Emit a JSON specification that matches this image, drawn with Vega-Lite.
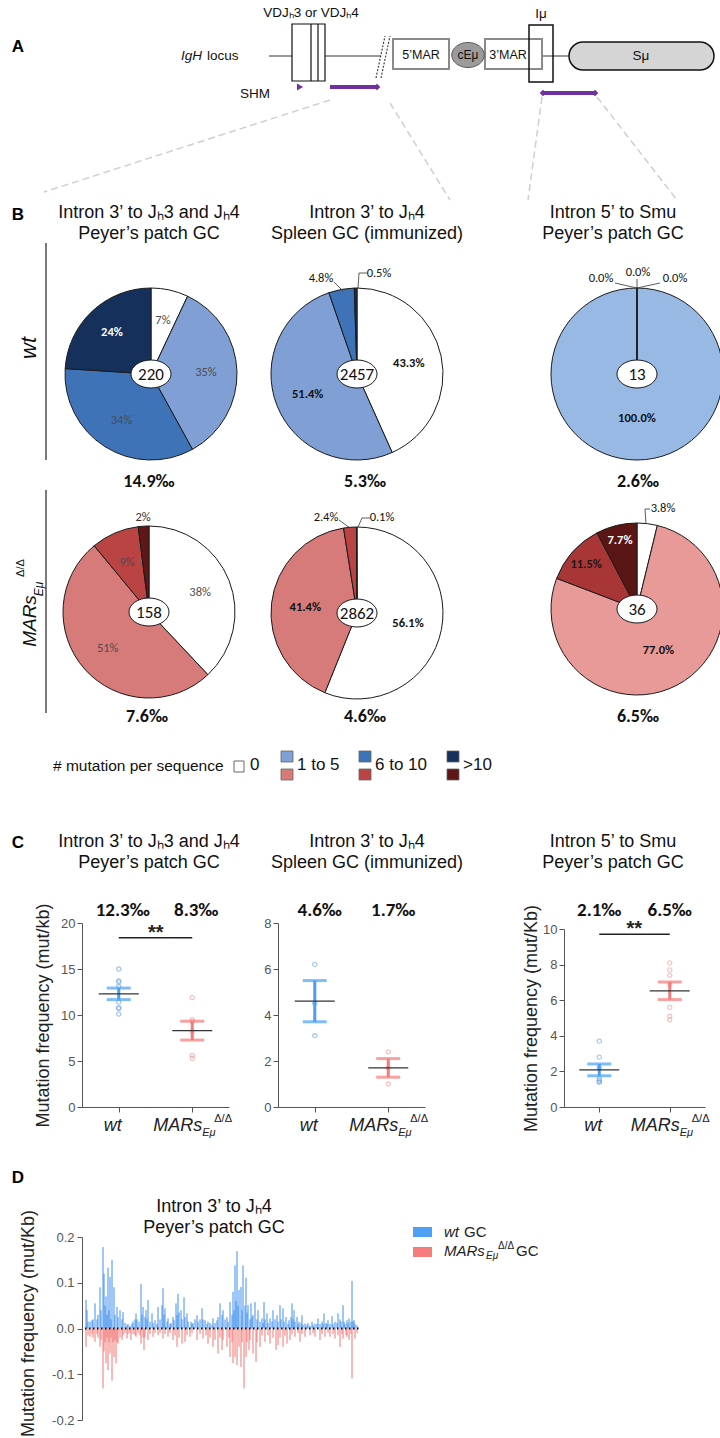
{
"$schema":"https://vega.github.io/schema/vega-lite/v6.json",
"padding":0,
"background":"white",
"spacing":0,
"bounds":"flush",
"config":{"view":{"stroke":null},"concat":{"spacing":0},
 "axis":{"labelFont":"Liberation Sans, Arial, sans-serif","labelFontSize":13,"labelColor":"#555","titleFont":"Liberation Sans, Arial, sans-serif","titleFontSize":17,"titleFontWeight":"normal","titleColor":"#222","domainColor":"#555","tickColor":"#555","tickSize":5,"labelPadding":2,"grid":false,"labelOverlap":false}},
"datasets":{
 "pie":[
  {"id":"w1","cat":"0","ord":1,"pct":7,"label":"7%"},
  {"id":"w1","cat":"1 to 5","ord":2,"pct":35,"label":"35%"},
  {"id":"w1","cat":"6 to 10","ord":3,"pct":34,"label":"34%"},
  {"id":"w1","cat":">10","ord":4,"pct":24,"label":"24%"},
  {"id":"w2","cat":"0","ord":1,"pct":43.3,"label":"43.3%"},
  {"id":"w2","cat":"1 to 5","ord":2,"pct":51.4,"label":"51.4%"},
  {"id":"w2","cat":"6 to 10","ord":3,"pct":4.8,"label":"4.8%"},
  {"id":"w2","cat":">10","ord":4,"pct":0.5,"label":"0.5%"},
  {"id":"w3","cat":"0","ord":1,"pct":0,"label":"0.0%"},
  {"id":"w3","cat":"1 to 5","ord":2,"pct":100,"label":"100.0%"},
  {"id":"w3","cat":"6 to 10","ord":3,"pct":0,"label":"0.0%"},
  {"id":"w3","cat":">10","ord":4,"pct":0,"label":"0.0%"},
  {"id":"m1","cat":"0","ord":1,"pct":38,"label":"38%"},
  {"id":"m1","cat":"1 to 5","ord":2,"pct":51,"label":"51%"},
  {"id":"m1","cat":"6 to 10","ord":3,"pct":9,"label":"9%"},
  {"id":"m1","cat":">10","ord":4,"pct":2,"label":"2%"},
  {"id":"m2","cat":"0","ord":1,"pct":56.1,"label":"56.1%"},
  {"id":"m2","cat":"1 to 5","ord":2,"pct":41.4,"label":"41.4%"},
  {"id":"m2","cat":"6 to 10","ord":3,"pct":2.4,"label":"2.4%"},
  {"id":"m2","cat":">10","ord":4,"pct":0.1,"label":"0.1%"},
  {"id":"m3","cat":"0","ord":1,"pct":3.8,"label":"3.8%"},
  {"id":"m3","cat":"1 to 5","ord":2,"pct":77.0,"label":"77.0%"},
  {"id":"m3","cat":"6 to 10","ord":3,"pct":11.5,"label":"11.5%"},
  {"id":"m3","cat":">10","ord":4,"pct":7.7,"label":"7.7%"}
 ],
 "pieinfo":[
  {"id":"w1","n":"220","freq":"14.9‰"},
  {"id":"w2","n":"2457","freq":"5.3‰"},
  {"id":"w3","n":"13","freq":"2.6‰"},
  {"id":"m1","n":"158","freq":"7.6‰"},
  {"id":"m2","n":"2862","freq":"4.6‰"},
  {"id":"m3","n":"36","freq":"6.5‰"}
 ],
 "cpts":[
  {"reg":1,"geno":"wt","f":15.0},{"reg":1,"geno":"wt","f":13.6},{"reg":1,"geno":"wt","f":13.7},{"reg":1,"geno":"wt","f":13.1},{"reg":1,"geno":"wt","f":11.4},{"reg":1,"geno":"wt","f":10.8},{"reg":1,"geno":"wt","f":10.7},{"reg":1,"geno":"wt","f":10.1},
  {"reg":1,"geno":"MARs","f":11.9},{"reg":1,"geno":"MARs","f":9.5},{"reg":1,"geno":"MARs","f":9.3},{"reg":1,"geno":"MARs","f":8.2},{"reg":1,"geno":"MARs","f":5.6},{"reg":1,"geno":"MARs","f":5.3},
  {"reg":2,"geno":"wt","f":6.2},{"reg":2,"geno":"wt","f":4.5},{"reg":2,"geno":"wt","f":3.1},
  {"reg":2,"geno":"MARs","f":2.4},{"reg":2,"geno":"MARs","f":1.7},{"reg":2,"geno":"MARs","f":1.0},
  {"reg":3,"geno":"wt","f":3.7},{"reg":3,"geno":"wt","f":2.8},{"reg":3,"geno":"wt","f":2.2},{"reg":3,"geno":"wt","f":1.6},{"reg":3,"geno":"wt","f":1.5},{"reg":3,"geno":"wt","f":1.4},{"reg":3,"geno":"wt","f":1.4},
  {"reg":3,"geno":"MARs","f":8.1},{"reg":3,"geno":"MARs","f":7.7},{"reg":3,"geno":"MARs","f":7.4},{"reg":3,"geno":"MARs","f":6.9},{"reg":3,"geno":"MARs","f":5.6},{"reg":3,"geno":"MARs","f":5.1},{"reg":3,"geno":"MARs","f":4.9}
 ],
 "cfreq":[
  {"reg":1,"geno":"wt","freq":"12.3‰"},{"reg":1,"geno":"MARs","freq":"8.3‰"},
  {"reg":2,"geno":"wt","freq":"4.6‰"},{"reg":2,"geno":"MARs","freq":"1.7‰"},
  {"reg":3,"geno":"wt","freq":"2.1‰"},{"reg":3,"geno":"MARs","freq":"6.5‰"}
 ],
 "dWt":[
  {"p":4,"f":0.063},{"p":5,"f":0.04},{"p":6,"f":0.015},{"p":8,"f":0.015},{"p":10,"f":0.018},{"p":11,"f":0.02},{"p":13,"f":0.055},{"p":15,"f":0.02},{"p":16,"f":0.03},{"p":18,"f":0.09},{"p":19,"f":0.04},{"p":21,"f":0.178},{"p":22,"f":0.12},{"p":23,"f":0.05},{"p":24,"f":0.07},{"p":25,"f":0.03},{"p":26,"f":0.133},{"p":27,"f":0.04},{"p":28,"f":0.113},{"p":29,"f":0.02},{"p":30,"f":0.15},{"p":32,"f":0.09},{"p":33,"f":0.03},{"p":35,"f":0.047},{"p":36,"f":0.025},{"p":38,"f":0.04},{"p":40,"f":0.02},{"p":41,"f":0.036},{"p":43,"f":0.012},{"p":45,"f":0.008},{"p":46,"f":0.01},{"p":48,"f":0.006},{"p":50,"f":0.011},{"p":51,"f":0.015},{"p":53,"f":0.02},{"p":54,"f":0.033},{"p":55,"f":0.02},{"p":57,"f":0.015},{"p":59,"f":0.097},{"p":60,"f":0.03},{"p":61,"f":0.047},{"p":63,"f":0.025},{"p":64,"f":0.04},{"p":65,"f":0.02},{"p":66,"f":0.062},{"p":68,"f":0.015},{"p":70,"f":0.033},{"p":71,"f":0.012},{"p":73,"f":0.018},{"p":75,"f":0.01},{"p":76,"f":0.047},{"p":78,"f":0.02},{"p":80,"f":0.051},{"p":81,"f":0.088},{"p":82,"f":0.03},{"p":83,"f":0.044},{"p":85,"f":0.015},{"p":86,"f":0.022},{"p":88,"f":0.01},{"p":89,"f":0.012},{"p":91,"f":0.025},{"p":92,"f":0.018},{"p":94,"f":0.055},{"p":95,"f":0.03},{"p":96,"f":0.076},{"p":97,"f":0.035},{"p":99,"f":0.04},{"p":100,"f":0.02},{"p":102,"f":0.068},{"p":103,"f":0.025},{"p":105,"f":0.033},{"p":106,"f":0.015},{"p":109,"f":0.015},{"p":110,"f":0.01},{"p":111,"f":0.012},{"p":113,"f":0.02},{"p":115,"f":0.029},{"p":116,"f":0.015},{"p":118,"f":0.02},{"p":120,"f":0.044},{"p":121,"f":0.02},{"p":123,"f":0.018},{"p":125,"f":0.01},{"p":126,"f":0.015},{"p":128,"f":0.012},{"p":130,"f":0.008},{"p":131,"f":0.022},{"p":133,"f":0.012},{"p":135,"f":0.018},{"p":136,"f":0.025},{"p":138,"f":0.055},{"p":140,"f":0.03},{"p":141,"f":0.04},{"p":143,"f":0.02},{"p":145,"f":0.025},{"p":146,"f":0.015},{"p":148,"f":0.058},{"p":150,"f":0.03},{"p":151,"f":0.08},{"p":152,"f":0.04},{"p":153,"f":0.138},{"p":154,"f":0.06},{"p":155,"f":0.169},{"p":156,"f":0.05},{"p":157,"f":0.084},{"p":159,"f":0.091},{"p":160,"f":0.04},{"p":161,"f":0.138},{"p":163,"f":0.05},{"p":164,"f":0.111},{"p":165,"f":0.035},{"p":166,"f":0.051},{"p":168,"f":0.02},{"p":169,"f":0.055},{"p":170,"f":0.025},{"p":171,"f":0.03},{"p":173,"f":0.058},{"p":175,"f":0.02},{"p":176,"f":0.04},{"p":178,"f":0.015},{"p":180,"f":0.022},{"p":181,"f":0.012},{"p":182,"f":0.058},{"p":183,"f":0.02},{"p":185,"f":0.033},{"p":186,"f":0.012},{"p":188,"f":0.022},{"p":190,"f":0.015},{"p":191,"f":0.04},{"p":193,"f":0.02},{"p":195,"f":0.029},{"p":196,"f":0.015},{"p":198,"f":0.051},{"p":199,"f":0.02},{"p":201,"f":0.044},{"p":202,"f":0.015},{"p":204,"f":0.025},{"p":206,"f":0.01},{"p":207,"f":0.018},{"p":209,"f":0.025},{"p":210,"f":0.055},{"p":211,"f":0.02},{"p":212,"f":0.04},{"p":213,"f":0.015},{"p":215,"f":0.025},{"p":216,"f":0.01},{"p":217,"f":0.015},{"p":219,"f":0.012},{"p":220,"f":0.029},{"p":221,"f":0.008},{"p":223,"f":0.011},{"p":225,"f":0.008},{"p":226,"f":0.012},{"p":228,"f":0.006},{"p":230,"f":0.015},{"p":231,"f":0.008},{"p":233,"f":0.011},{"p":235,"f":0.01},{"p":236,"f":0.022},{"p":238,"f":0.01},{"p":240,"f":0.015},{"p":241,"f":0.01},{"p":242,"f":0.033},{"p":244,"f":0.012},{"p":245,"f":0.01},{"p":246,"f":0.018},{"p":248,"f":0.01},{"p":250,"f":0.027},{"p":251,"f":0.01},{"p":253,"f":0.015},{"p":255,"f":0.012},{"p":256,"f":0.033},{"p":258,"f":0.02},{"p":259,"f":0.015},{"p":261,"f":0.051},{"p":262,"f":0.015},{"p":263,"f":0.01},{"p":265,"f":0.018},{"p":266,"f":0.012},{"p":267,"f":0.022},{"p":269,"f":0.015},{"p":270,"f":0.104},{"p":271,"f":0.015},{"p":272,"f":0.018},{"p":273,"f":0.01},{"p":275,"f":0.007}
 ],
 "dMars":[
  {"p":4,"f":-0.04},{"p":6,"f":-0.015},{"p":8,"f":-0.018},{"p":10,"f":-0.012},{"p":11,"f":-0.02},{"p":13,"f":-0.029},{"p":15,"f":-0.012},{"p":16,"f":-0.02},{"p":18,"f":-0.04},{"p":19,"f":-0.025},{"p":21,"f":-0.131},{"p":22,"f":-0.05},{"p":23,"f":-0.03},{"p":24,"f":-0.076},{"p":25,"f":-0.02},{"p":26,"f":-0.091},{"p":27,"f":-0.03},{"p":28,"f":-0.055},{"p":29,"f":-0.02},{"p":30,"f":-0.114},{"p":31,"f":-0.03},{"p":32,"f":-0.062},{"p":33,"f":-0.025},{"p":34,"f":-0.076},{"p":35,"f":-0.03},{"p":36,"f":-0.033},{"p":38,"f":-0.02},{"p":40,"f":-0.025},{"p":41,"f":-0.015},{"p":43,"f":-0.01},{"p":45,"f":-0.022},{"p":46,"f":-0.012},{"p":48,"f":-0.01},{"p":49,"f":-0.025},{"p":51,"f":-0.012},{"p":53,"f":-0.015},{"p":54,"f":-0.018},{"p":56,"f":-0.01},{"p":58,"f":-0.015},{"p":59,"f":-0.033},{"p":61,"f":-0.02},{"p":62,"f":-0.047},{"p":63,"f":-0.02},{"p":66,"f":-0.025},{"p":68,"f":-0.012},{"p":71,"f":-0.018},{"p":73,"f":-0.01},{"p":76,"f":-0.015},{"p":78,"f":-0.01},{"p":81,"f":-0.022},{"p":83,"f":-0.012},{"p":86,"f":-0.018},{"p":88,"f":-0.01},{"p":91,"f":-0.025},{"p":93,"f":-0.015},{"p":95,"f":-0.04},{"p":97,"f":-0.02},{"p":100,"f":-0.033},{"p":103,"f":-0.029},{"p":105,"f":-0.015},{"p":108,"f":-0.018},{"p":110,"f":-0.01},{"p":115,"f":-0.025},{"p":118,"f":-0.012},{"p":121,"f":-0.022},{"p":124,"f":-0.015},{"p":126,"f":-0.033},{"p":128,"f":-0.02},{"p":131,"f":-0.04},{"p":133,"f":-0.025},{"p":136,"f":-0.055},{"p":138,"f":-0.02},{"p":140,"f":-0.047},{"p":141,"f":-0.025},{"p":145,"f":-0.04},{"p":147,"f":-0.02},{"p":148,"f":-0.062},{"p":150,"f":-0.03},{"p":151,"f":-0.076},{"p":153,"f":-0.062},{"p":155,"f":-0.08},{"p":157,"f":-0.04},{"p":159,"f":-0.084},{"p":160,"f":-0.03},{"p":162,"f":-0.131},{"p":164,"f":-0.062},{"p":165,"f":-0.03},{"p":167,"f":-0.047},{"p":168,"f":-0.025},{"p":171,"f":-0.055},{"p":174,"f":-0.073},{"p":175,"f":-0.03},{"p":178,"f":-0.04},{"p":180,"f":-0.015},{"p":183,"f":-0.029},{"p":186,"f":-0.015},{"p":188,"f":-0.033},{"p":191,"f":-0.02},{"p":194,"f":-0.047},{"p":196,"f":-0.036},{"p":198,"f":-0.02},{"p":201,"f":-0.04},{"p":203,"f":-0.015},{"p":205,"f":-0.033},{"p":208,"f":-0.025},{"p":210,"f":-0.012},{"p":213,"f":-0.018},{"p":216,"f":-0.01},{"p":218,"f":-0.029},{"p":220,"f":-0.012},{"p":223,"f":-0.018},{"p":228,"f":-0.015},{"p":231,"f":-0.01},{"p":233,"f":-0.018},{"p":238,"f":-0.025},{"p":240,"f":-0.012},{"p":243,"f":-0.018},{"p":246,"f":-0.01},{"p":248,"f":-0.018},{"p":251,"f":-0.012},{"p":253,"f":-0.022},{"p":256,"f":-0.015},{"p":258,"f":-0.04},{"p":260,"f":-0.012},{"p":261,"f":-0.022},{"p":264,"f":-0.015},{"p":265,"f":-0.018},{"p":267,"f":-0.025},{"p":269,"f":-0.012},{"p":270,"f":-0.109},{"p":273,"f":-0.022},{"p":275,"f":-0.01}
 ]
},
"vconcat":[
 {
  "width":720,"height":200,
  "data":{"values":[{}]},
  "layer":[
   {"mark":{"type":"rule","color":"#cfcfcf","strokeWidth":1.5,"strokeDash":[7,4]},"encoding":{"x":{"datum":330,"type":"quantitative","scale":{"domain":[0,720],"nice":false,"zero":false},"axis":null},"y":{"datum":100,"type":"quantitative","scale":{"domain":[0,200],"nice":false,"zero":false,"reverse":true},"axis":null},"x2":{"datum":44},"y2":{"datum":192}}},
   {"mark":{"type":"rule","color":"#cfcfcf","strokeWidth":1.5,"strokeDash":[7,4]},"encoding":{"x":{"datum":390,"type":"quantitative","axis":null},"y":{"datum":103,"type":"quantitative","axis":null},"x2":{"datum":450},"y2":{"datum":200}}},
   {"mark":{"type":"rule","color":"#cfcfcf","strokeWidth":1.5,"strokeDash":[7,4]},"encoding":{"x":{"datum":542,"type":"quantitative","axis":null},"y":{"datum":97,"type":"quantitative","axis":null},"x2":{"datum":528},"y2":{"datum":200}}},
   {"mark":{"type":"rule","color":"#cfcfcf","strokeWidth":1.5,"strokeDash":[7,4]},"encoding":{"x":{"datum":597,"type":"quantitative","axis":null},"y":{"datum":97,"type":"quantitative","axis":null},"x2":{"datum":677},"y2":{"datum":200}}},
   {"mark":{"type":"rule","color":"#333","strokeWidth":1},"encoding":{"x":{"datum":269,"type":"quantitative","axis":null},"y":{"datum":56,"type":"quantitative","axis":null},"x2":{"datum":381},"y2":{"datum":56}}},
   {"mark":{"type":"rule","color":"#333","strokeWidth":1},"encoding":{"x":{"datum":542,"type":"quantitative","axis":null},"y":{"datum":56,"type":"quantitative","axis":null},"x2":{"datum":569},"y2":{"datum":56}}},
   {"mark":{"type":"rule","color":"#333","strokeWidth":1.1,"strokeDash":[2,1.5]},"encoding":{"x":{"datum":376,"type":"quantitative","axis":null},"y":{"datum":78,"type":"quantitative","axis":null},"x2":{"datum":385},"y2":{"datum":36}}},
   {"mark":{"type":"rule","color":"#333","strokeWidth":1.1,"strokeDash":[2,1.5]},"encoding":{"x":{"datum":381,"type":"quantitative","axis":null},"y":{"datum":78,"type":"quantitative","axis":null},"x2":{"datum":390},"y2":{"datum":36}}},
   {"mark":{"type":"rect","fill":"white","stroke":"#111","strokeWidth":1.2},"encoding":{"x":{"datum":292,"type":"quantitative","axis":null},"x2":{"datum":325},"y":{"datum":24,"type":"quantitative","axis":null},"y2":{"datum":81}}},
   {"mark":{"type":"rule","color":"#111","strokeWidth":1.2},"encoding":{"x":{"datum":311,"type":"quantitative","axis":null},"y":{"datum":24,"type":"quantitative","axis":null},"x2":{"datum":311},"y2":{"datum":81}}},
   {"mark":{"type":"rule","color":"#111","strokeWidth":1.2},"encoding":{"x":{"datum":318,"type":"quantitative","axis":null},"y":{"datum":24,"type":"quantitative","axis":null},"x2":{"datum":318},"y2":{"datum":81}}},
   {"mark":{"type":"rect","fill":"white","stroke":"#8a8a8a","strokeWidth":2},"encoding":{"x":{"datum":393,"type":"quantitative","axis":null},"x2":{"datum":449},"y":{"datum":39,"type":"quantitative","axis":null},"y2":{"datum":69}}},
   {"mark":{"type":"rect","fill":"white","stroke":"#8a8a8a","strokeWidth":2},"encoding":{"x":{"datum":485,"type":"quantitative","axis":null},"x2":{"datum":542},"y":{"datum":39,"type":"quantitative","axis":null},"y2":{"datum":69}}},
   {"mark":{"type":"point","shape":"M-1.3,0A1.3,1 0 1,0 1.3,0A1.3,1 0 1,0 -1.3,0Z","size":625,"filled":true,"fill":"#9b9b9b","stroke":"#5a5a5a","strokeWidth":1,"opacity":1},"encoding":{"x":{"datum":468,"type":"quantitative","axis":null},"y":{"datum":55,"type":"quantitative","axis":null}}},
   {"mark":{"type":"rect","filled":false,"stroke":"#111","strokeWidth":1.5},"encoding":{"x":{"datum":529,"type":"quantitative","axis":null},"x2":{"datum":553},"y":{"datum":25,"type":"quantitative","axis":null},"y2":{"datum":82}}},
   {"mark":{"type":"rect","fill":"#d5d5d5","stroke":"#111","strokeWidth":1.5,"cornerRadius":14},"encoding":{"x":{"datum":569,"type":"quantitative","axis":null},"x2":{"datum":714},"y":{"datum":42,"type":"quantitative","axis":null},"y2":{"datum":70}}},
   {"mark":{"type":"text","text":"A","font":"Liberation Sans, Arial, sans-serif","fontSize":17,"fontWeight":"bold","color":"#000"},"encoding":{"x":{"datum":18,"type":"quantitative","axis":null},"y":{"datum":47,"type":"quantitative","axis":null}}},
   {"mark":{"type":"text","text":"VDJₕ3 or VDJₕ4","font":"Liberation Sans Narrow, Arial Narrow, Liberation Sans, Arial, sans-serif","fontSize":13.5,"color":"#111"},"encoding":{"x":{"datum":311,"type":"quantitative","axis":null},"y":{"datum":13,"type":"quantitative","axis":null}}},
   {"mark":{"type":"text","text":"IgH","align":"left","fontStyle":"italic","font":"Liberation Sans Narrow, Arial Narrow, Liberation Sans, Arial, sans-serif","fontSize":13.5,"color":"#111"},"encoding":{"x":{"datum":181,"type":"quantitative","axis":null},"y":{"datum":56,"type":"quantitative","axis":null}}},
   {"mark":{"type":"text","text":"locus","align":"left","font":"Liberation Sans Narrow, Arial Narrow, Liberation Sans, Arial, sans-serif","fontSize":13.5,"color":"#111"},"encoding":{"x":{"datum":207,"type":"quantitative","axis":null},"y":{"datum":56,"type":"quantitative","axis":null}}},
   {"mark":{"type":"text","text":"5’MAR","font":"Liberation Sans Narrow, Arial Narrow, Liberation Sans, Arial, sans-serif","fontSize":12.5,"color":"#111"},"encoding":{"x":{"datum":421,"type":"quantitative","axis":null},"y":{"datum":55,"type":"quantitative","axis":null}}},
   {"mark":{"type":"text","text":"cEμ","font":"Liberation Sans Narrow, Arial Narrow, Liberation Sans, Arial, sans-serif","fontSize":12,"color":"#111"},"encoding":{"x":{"datum":468,"type":"quantitative","axis":null},"y":{"datum":55,"type":"quantitative","axis":null}}},
   {"mark":{"type":"text","text":"3’MAR","font":"Liberation Sans Narrow, Arial Narrow, Liberation Sans, Arial, sans-serif","fontSize":12.5,"color":"#111"},"encoding":{"x":{"datum":508,"type":"quantitative","axis":null},"y":{"datum":55,"type":"quantitative","axis":null}}},
   {"mark":{"type":"text","text":"Iμ","font":"Liberation Sans Narrow, Arial Narrow, Liberation Sans, Arial, sans-serif","fontSize":13.5,"color":"#111"},"encoding":{"x":{"datum":541,"type":"quantitative","axis":null},"y":{"datum":14,"type":"quantitative","axis":null}}},
   {"mark":{"type":"text","text":"Sμ","font":"Liberation Sans Narrow, Arial Narrow, Liberation Sans, Arial, sans-serif","fontSize":13.5,"color":"#111"},"encoding":{"x":{"datum":641,"type":"quantitative","axis":null},"y":{"datum":56,"type":"quantitative","axis":null}}},
   {"mark":{"type":"text","text":"SHM","font":"Liberation Sans Narrow, Arial Narrow, Liberation Sans, Arial, sans-serif","fontSize":13.5,"color":"#111"},"encoding":{"x":{"datum":255,"type":"quantitative","axis":null},"y":{"datum":94,"type":"quantitative","axis":null}}},
   {"mark":{"type":"rule","color":"#7030a0","strokeWidth":4},"encoding":{"x":{"datum":330,"type":"quantitative","axis":null},"y":{"datum":87,"type":"quantitative","axis":null},"x2":{"datum":376},"y2":{"datum":87}}},
   {"mark":{"type":"point","shape":"diamond","size":45,"filled":true,"color":"#7030a0","opacity":1},"encoding":{"x":{"datum":377,"type":"quantitative","axis":null},"y":{"datum":87,"type":"quantitative","axis":null}}},
   {"mark":{"type":"point","shape":"triangle-right","size":50,"filled":true,"color":"#7030a0","opacity":1},"encoding":{"x":{"datum":300,"type":"quantitative","axis":null},"y":{"datum":87,"type":"quantitative","axis":null}}},
   {"mark":{"type":"rule","color":"#7030a0","strokeWidth":4},"encoding":{"x":{"datum":543,"type":"quantitative","axis":null},"y":{"datum":93,"type":"quantitative","axis":null},"x2":{"datum":595},"y2":{"datum":93}}},
   {"mark":{"type":"point","shape":"diamond","size":45,"filled":true,"color":"#7030a0","opacity":1},"encoding":{"x":{"datum":543,"type":"quantitative","axis":null},"y":{"datum":93,"type":"quantitative","axis":null}}},
   {"mark":{"type":"point","shape":"diamond","size":45,"filled":true,"color":"#7030a0","opacity":1},"encoding":{"x":{"datum":595,"type":"quantitative","axis":null},"y":{"datum":93,"type":"quantitative","axis":null}}}
  ]
 },
 {
  "width":720,"height":600,
  "data":{"values":[{}]},
  "resolve":{"scale":{"color":"independent"}},
  "layer":[
   {"mark":{"type":"text","text":"B","font":"Liberation Sans, Arial, sans-serif","fontSize":17,"fontWeight":"bold","color":"#000"},"encoding":{"x":{"datum":18,"type":"quantitative","scale":{"domain":[0,720],"nice":false,"zero":false},"axis":null},"y":{"datum":15,"type":"quantitative","scale":{"domain":[0,600],"nice":false,"zero":false,"reverse":true},"axis":null}}},
   {"mark":{"type":"text","text":"wt","angle":270,"fontStyle":"italic","font":"Liberation Sans, Arial, sans-serif","fontSize":22,"color":"#111"},"encoding":{"x":{"datum":29,"type":"quantitative","axis":null},"y":{"datum":148,"type":"quantitative","axis":null}}},
   {"mark":{"type":"rule","color":"#222","strokeWidth":1.2},"encoding":{"x":{"datum":46,"type":"quantitative","axis":null},"y":{"datum":43,"type":"quantitative","axis":null},"x2":{"datum":46},"y2":{"datum":260}}},
   {"mark":{"type":"rule","color":"#222","strokeWidth":1.2},"encoding":{"x":{"datum":46,"type":"quantitative","axis":null},"y":{"datum":290,"type":"quantitative","axis":null},"x2":{"datum":46},"y2":{"datum":513}}},
   {"mark":{"type":"text","text":"MARs","angle":270,"fontStyle":"italic","font":"Liberation Sans, Arial, sans-serif","fontSize":19,"color":"#111"},"encoding":{"x":{"datum":30,"type":"quantitative","axis":null},"y":{"datum":421,"type":"quantitative","axis":null}}},
   {"mark":{"type":"text","text":"Eμ","angle":270,"fontStyle":"italic","font":"Liberation Sans, Arial, sans-serif","fontSize":12,"color":"#111"},"encoding":{"x":{"datum":39,"type":"quantitative","axis":null},"y":{"datum":389,"type":"quantitative","axis":null}}},
   {"mark":{"type":"text","text":"Δ/Δ","angle":270,"font":"Liberation Sans, Arial, sans-serif","fontSize":11,"color":"#111"},"encoding":{"x":{"datum":21,"type":"quantitative","axis":null},"y":{"datum":368,"type":"quantitative","axis":null}}},
   {"mark":{"type":"text","text":"Intron 3’ to Jₕ3 and Jₕ4","font":"Liberation Sans Narrow, Arial Narrow, Liberation Sans, Arial, sans-serif","fontSize":18,"color":"#111"},"encoding":{"x":{"datum":149,"type":"quantitative","axis":null},"y":{"datum":13,"type":"quantitative","axis":null}}},
   {"mark":{"type":"text","text":"Peyer’s patch GC","font":"Liberation Sans Narrow, Arial Narrow, Liberation Sans, Arial, sans-serif","fontSize":18,"color":"#111"},"encoding":{"x":{"datum":149,"type":"quantitative","axis":null},"y":{"datum":34,"type":"quantitative","axis":null}}},
   {"mark":{"type":"text","text":"Intron 3’ to Jₕ4","font":"Liberation Sans Narrow, Arial Narrow, Liberation Sans, Arial, sans-serif","fontSize":18,"color":"#111"},"encoding":{"x":{"datum":367,"type":"quantitative","axis":null},"y":{"datum":13,"type":"quantitative","axis":null}}},
   {"mark":{"type":"text","text":"Spleen GC (immunized)","font":"Liberation Sans Narrow, Arial Narrow, Liberation Sans, Arial, sans-serif","fontSize":18,"color":"#111"},"encoding":{"x":{"datum":367,"type":"quantitative","axis":null},"y":{"datum":34,"type":"quantitative","axis":null}}},
   {"mark":{"type":"text","text":"Intron 5’ to Smu","font":"Liberation Sans Narrow, Arial Narrow, Liberation Sans, Arial, sans-serif","fontSize":18,"color":"#111"},"encoding":{"x":{"datum":613,"type":"quantitative","axis":null},"y":{"datum":13,"type":"quantitative","axis":null}}},
   {"mark":{"type":"text","text":"Peyer’s patch GC","font":"Liberation Sans Narrow, Arial Narrow, Liberation Sans, Arial, sans-serif","fontSize":18,"color":"#111"},"encoding":{"x":{"datum":613,"type":"quantitative","axis":null},"y":{"datum":34,"type":"quantitative","axis":null}}},

   {"data":{"name":"pie"},"transform":[{"filter":"datum.id=='w1'"}],"mark":{"type":"arc","outerRadius":86,"stroke":"#1a1a1a","strokeWidth":1},"encoding":{"x":{"datum":151,"type":"quantitative","axis":null},"y":{"datum":174,"type":"quantitative","axis":null},"theta":{"field":"pct","type":"quantitative","stack":true,"scale":{"domain":[0,100]}},"order":{"field":"ord","type":"quantitative"},"color":{"field":"cat","type":"nominal","scale":{"domain":["0","1 to 5","6 to 10",">10"],"range":["#ffffff","#7f9fd5","#3e73b7","#15305a"]},"legend":null}}},
   {"data":{"name":"pie"},"transform":[{"filter":"datum.id=='w2'"}],"mark":{"type":"arc","outerRadius":86,"stroke":"#1a1a1a","strokeWidth":1},"encoding":{"x":{"datum":357,"type":"quantitative","axis":null},"y":{"datum":174,"type":"quantitative","axis":null},"theta":{"field":"pct","type":"quantitative","stack":true},"order":{"field":"ord","type":"quantitative"},"color":{"field":"cat","type":"nominal","scale":{"domain":["0","1 to 5","6 to 10",">10"],"range":["#ffffff","#7f9fd5","#3e73b7","#15305a"]},"legend":null}}},
   {"data":{"name":"pie"},"transform":[{"filter":"datum.id=='w3'"}],"mark":{"type":"arc","outerRadius":86,"stroke":"#1a1a1a","strokeWidth":1,"clip":true},"encoding":{"x":{"datum":637,"type":"quantitative","axis":null},"y":{"datum":174,"type":"quantitative","axis":null},"theta":{"field":"pct","type":"quantitative","stack":true},"order":{"field":"ord","type":"quantitative"},"color":{"field":"cat","type":"nominal","scale":{"domain":["0","1 to 5","6 to 10",">10"],"range":["#ffffff","#98b9e4","#3e73b7","#15305a"]},"legend":null}}},
   {"data":{"name":"pie"},"transform":[{"filter":"datum.id=='m1'"}],"mark":{"type":"arc","outerRadius":86,"stroke":"#1a1a1a","strokeWidth":1},"encoding":{"x":{"datum":149,"type":"quantitative","axis":null},"y":{"datum":412,"type":"quantitative","axis":null},"theta":{"field":"pct","type":"quantitative","stack":true},"order":{"field":"ord","type":"quantitative"},"color":{"field":"cat","type":"nominal","scale":{"domain":["0","1 to 5","6 to 10",">10"],"range":["#ffffff","#d67b7a","#ba4343","#5e1616"]},"legend":null}}},
   {"data":{"name":"pie"},"transform":[{"filter":"datum.id=='m2'"}],"mark":{"type":"arc","outerRadius":86,"stroke":"#1a1a1a","strokeWidth":1},"encoding":{"x":{"datum":357,"type":"quantitative","axis":null},"y":{"datum":413,"type":"quantitative","axis":null},"theta":{"field":"pct","type":"quantitative","stack":true},"order":{"field":"ord","type":"quantitative"},"color":{"field":"cat","type":"nominal","scale":{"domain":["0","1 to 5","6 to 10",">10"],"range":["#ffffff","#d67b7a","#ba4343","#5e1616"]},"legend":null}}},
   {"data":{"name":"pie"},"transform":[{"filter":"datum.id=='m3'"}],"mark":{"type":"arc","outerRadius":86,"stroke":"#1a1a1a","strokeWidth":1,"clip":true},"encoding":{"x":{"datum":637,"type":"quantitative","axis":null},"y":{"datum":409,"type":"quantitative","axis":null},"theta":{"field":"pct","type":"quantitative","stack":true},"order":{"field":"ord","type":"quantitative"},"color":{"field":"cat","type":"nominal","scale":{"domain":["0","1 to 5","6 to 10",">10"],"range":["#ffffff","#e89a98","#a93636","#5a1515"]},"legend":null}}},

   {"data":{"name":"pie"},"transform":[{"filter":"datum.id=='w1'"}],"mark":{"type":"text","radius":55,"font":"Carlito, Calibri, Lato, sans-serif","fontSize":12.5,"color":"#4d4d4d"},"encoding":{"x":{"datum":151,"type":"quantitative","axis":null},"y":{"datum":174,"type":"quantitative","axis":null},"theta":{"field":"pct","type":"quantitative","stack":true},"order":{"field":"ord","type":"quantitative"},"text":{"condition":{"test":"datum.cat!='>10'","field":"label","type":"nominal"},"value":""}}},
   {"data":{"name":"pie"},"transform":[{"filter":"datum.id=='w1'"}],"mark":{"type":"text","radius":57,"font":"Carlito, Calibri, Lato, sans-serif","fontSize":12.5,"fontWeight":"bold","color":"#ffffff"},"encoding":{"x":{"datum":151,"type":"quantitative","axis":null},"y":{"datum":174,"type":"quantitative","axis":null},"theta":{"field":"pct","type":"quantitative","stack":true},"order":{"field":"ord","type":"quantitative"},"text":{"condition":{"test":"datum.cat=='>10'","field":"label","type":"nominal"},"value":""}}},
   {"data":{"name":"pie"},"transform":[{"filter":"datum.id=='w2'"}],"mark":{"type":"text","radius":53,"font":"Carlito, Calibri, Lato, sans-serif","fontSize":12.5,"fontWeight":"bold","color":"#111"},"encoding":{"x":{"datum":357,"type":"quantitative","axis":null},"y":{"datum":174,"type":"quantitative","axis":null},"theta":{"field":"pct","type":"quantitative","stack":true},"order":{"field":"ord","type":"quantitative"},"text":{"condition":{"test":"datum.cat=='0'||datum.cat=='1 to 5'","field":"label","type":"nominal"},"value":""}}},
   {"data":{"name":"pie"},"transform":[{"filter":"datum.id=='w3'"}],"mark":{"type":"text","radius":44,"font":"Carlito, Calibri, Lato, sans-serif","fontSize":12.5,"fontWeight":"bold","color":"#111"},"encoding":{"x":{"datum":637,"type":"quantitative","axis":null},"y":{"datum":174,"type":"quantitative","axis":null},"theta":{"field":"pct","type":"quantitative","stack":true},"order":{"field":"ord","type":"quantitative"},"text":{"condition":{"test":"datum.cat=='1 to 5'","field":"label","type":"nominal"},"value":""}}},
   {"data":{"name":"pie"},"transform":[{"filter":"datum.id=='m1'"}],"mark":{"type":"text","radius":55,"font":"Carlito, Calibri, Lato, sans-serif","fontSize":12.5,"color":"#4d4d4d"},"encoding":{"x":{"datum":149,"type":"quantitative","axis":null},"y":{"datum":412,"type":"quantitative","axis":null},"theta":{"field":"pct","type":"quantitative","stack":true},"order":{"field":"ord","type":"quantitative"},"text":{"condition":{"test":"datum.cat!='>10'","field":"label","type":"nominal"},"value":""}}},
   {"data":{"name":"pie"},"transform":[{"filter":"datum.id=='m1'"}],"mark":{"type":"text","radius":95,"font":"Carlito, Calibri, Lato, sans-serif","fontSize":12.5,"color":"#333"},"encoding":{"x":{"datum":149,"type":"quantitative","axis":null},"y":{"datum":412,"type":"quantitative","axis":null},"theta":{"field":"pct","type":"quantitative","stack":true},"order":{"field":"ord","type":"quantitative"},"text":{"condition":{"test":"datum.cat=='>10'","field":"label","type":"nominal"},"value":""}}},
   {"data":{"name":"pie"},"transform":[{"filter":"datum.id=='m2'"}],"mark":{"type":"text","radius":52,"font":"Carlito, Calibri, Lato, sans-serif","fontSize":12.5,"fontWeight":"bold","color":"#111"},"encoding":{"x":{"datum":357,"type":"quantitative","axis":null},"y":{"datum":413,"type":"quantitative","axis":null},"theta":{"field":"pct","type":"quantitative","stack":true},"order":{"field":"ord","type":"quantitative"},"text":{"condition":{"test":"datum.cat=='0'||datum.cat=='1 to 5'","field":"label","type":"nominal"},"value":""}}},
   {"data":{"name":"pie"},"transform":[{"filter":"datum.id=='m3'"}],"mark":{"type":"text","radius":46,"font":"Carlito, Calibri, Lato, sans-serif","fontSize":12.5,"fontWeight":"bold","color":"#111"},"encoding":{"x":{"datum":637,"type":"quantitative","axis":null},"y":{"datum":409,"type":"quantitative","axis":null},"theta":{"field":"pct","type":"quantitative","stack":true},"order":{"field":"ord","type":"quantitative"},"text":{"condition":{"test":"datum.cat=='1 to 5'","field":"label","type":"nominal"},"value":""}}},
   {"data":{"name":"pie"},"transform":[{"filter":"datum.id=='m3'"}],"mark":{"type":"text","radius":68,"font":"Carlito, Calibri, Lato, sans-serif","fontSize":12.5,"fontWeight":"bold","color":"#1a1a1a"},"encoding":{"x":{"datum":637,"type":"quantitative","axis":null},"y":{"datum":409,"type":"quantitative","axis":null},"theta":{"field":"pct","type":"quantitative","stack":true},"order":{"field":"ord","type":"quantitative"},"text":{"condition":{"test":"datum.cat=='6 to 10'","field":"label","type":"nominal"},"value":""}}},
   {"data":{"name":"pie"},"transform":[{"filter":"datum.id=='m3'"}],"mark":{"type":"text","radius":71,"font":"Carlito, Calibri, Lato, sans-serif","fontSize":12.5,"fontWeight":"bold","color":"#ffffff"},"encoding":{"x":{"datum":637,"type":"quantitative","axis":null},"y":{"datum":409,"type":"quantitative","axis":null},"theta":{"field":"pct","type":"quantitative","stack":true},"order":{"field":"ord","type":"quantitative"},"text":{"condition":{"test":"datum.cat=='>10'","field":"label","type":"nominal"},"value":""}}},

   {"mark":{"type":"point","shape":"M-1.43,0A1.43,1 0 1,0 1.43,0A1.43,1 0 1,0 -1.43,0Z","size":784,"filled":true,"fill":"white","stroke":"#1a1a1a","strokeWidth":1,"opacity":1},"encoding":{"x":{"datum":151,"type":"quantitative","axis":null},"y":{"datum":174,"type":"quantitative","axis":null}}},
   {"mark":{"type":"point","shape":"M-1.43,0A1.43,1 0 1,0 1.43,0A1.43,1 0 1,0 -1.43,0Z","size":784,"filled":true,"fill":"white","stroke":"#1a1a1a","strokeWidth":1,"opacity":1},"encoding":{"x":{"datum":357,"type":"quantitative","axis":null},"y":{"datum":174,"type":"quantitative","axis":null}}},
   {"mark":{"type":"point","shape":"M-1.43,0A1.43,1 0 1,0 1.43,0A1.43,1 0 1,0 -1.43,0Z","size":784,"filled":true,"fill":"white","stroke":"#1a1a1a","strokeWidth":1,"opacity":1},"encoding":{"x":{"datum":637,"type":"quantitative","axis":null},"y":{"datum":174,"type":"quantitative","axis":null}}},
   {"mark":{"type":"point","shape":"M-1.43,0A1.43,1 0 1,0 1.43,0A1.43,1 0 1,0 -1.43,0Z","size":784,"filled":true,"fill":"white","stroke":"#1a1a1a","strokeWidth":1,"opacity":1},"encoding":{"x":{"datum":149,"type":"quantitative","axis":null},"y":{"datum":412,"type":"quantitative","axis":null}}},
   {"mark":{"type":"point","shape":"M-1.43,0A1.43,1 0 1,0 1.43,0A1.43,1 0 1,0 -1.43,0Z","size":784,"filled":true,"fill":"white","stroke":"#1a1a1a","strokeWidth":1,"opacity":1},"encoding":{"x":{"datum":357,"type":"quantitative","axis":null},"y":{"datum":413,"type":"quantitative","axis":null}}},
   {"mark":{"type":"point","shape":"M-1.43,0A1.43,1 0 1,0 1.43,0A1.43,1 0 1,0 -1.43,0Z","size":784,"filled":true,"fill":"white","stroke":"#1a1a1a","strokeWidth":1,"opacity":1},"encoding":{"x":{"datum":637,"type":"quantitative","axis":null},"y":{"datum":409,"type":"quantitative","axis":null}}},

   {"data":{"name":"pieinfo"},"transform":[{"filter":"datum.id=='w1'"}],"mark":{"type":"text","font":"Carlito, Calibri, Lato, sans-serif","fontSize":17,"color":"#111"},"encoding":{"x":{"datum":151,"type":"quantitative","axis":null},"y":{"datum":175,"type":"quantitative","axis":null},"text":{"field":"n","type":"nominal"}}},
   {"data":{"name":"pieinfo"},"transform":[{"filter":"datum.id=='w2'"}],"mark":{"type":"text","font":"Carlito, Calibri, Lato, sans-serif","fontSize":17,"color":"#111"},"encoding":{"x":{"datum":357,"type":"quantitative","axis":null},"y":{"datum":175,"type":"quantitative","axis":null},"text":{"field":"n","type":"nominal"}}},
   {"data":{"name":"pieinfo"},"transform":[{"filter":"datum.id=='w3'"}],"mark":{"type":"text","font":"Carlito, Calibri, Lato, sans-serif","fontSize":17,"color":"#111"},"encoding":{"x":{"datum":637,"type":"quantitative","axis":null},"y":{"datum":175,"type":"quantitative","axis":null},"text":{"field":"n","type":"nominal"}}},
   {"data":{"name":"pieinfo"},"transform":[{"filter":"datum.id=='m1'"}],"mark":{"type":"text","font":"Carlito, Calibri, Lato, sans-serif","fontSize":17,"color":"#111"},"encoding":{"x":{"datum":149,"type":"quantitative","axis":null},"y":{"datum":413,"type":"quantitative","axis":null},"text":{"field":"n","type":"nominal"}}},
   {"data":{"name":"pieinfo"},"transform":[{"filter":"datum.id=='m2'"}],"mark":{"type":"text","font":"Carlito, Calibri, Lato, sans-serif","fontSize":17,"color":"#111"},"encoding":{"x":{"datum":357,"type":"quantitative","axis":null},"y":{"datum":414,"type":"quantitative","axis":null},"text":{"field":"n","type":"nominal"}}},
   {"data":{"name":"pieinfo"},"transform":[{"filter":"datum.id=='m3'"}],"mark":{"type":"text","font":"Carlito, Calibri, Lato, sans-serif","fontSize":17,"color":"#111"},"encoding":{"x":{"datum":637,"type":"quantitative","axis":null},"y":{"datum":410,"type":"quantitative","axis":null},"text":{"field":"n","type":"nominal"}}},

   {"data":{"name":"pieinfo"},"transform":[{"filter":"datum.id=='w1'"}],"mark":{"type":"text","font":"Carlito, Calibri, Lato, sans-serif","fontSize":18,"fontWeight":"bold","color":"#111"},"encoding":{"x":{"datum":149,"type":"quantitative","axis":null},"y":{"datum":282,"type":"quantitative","axis":null},"text":{"field":"freq","type":"nominal"}}},
   {"data":{"name":"pieinfo"},"transform":[{"filter":"datum.id=='w2'"}],"mark":{"type":"text","font":"Carlito, Calibri, Lato, sans-serif","fontSize":18,"fontWeight":"bold","color":"#111"},"encoding":{"x":{"datum":365,"type":"quantitative","axis":null},"y":{"datum":282,"type":"quantitative","axis":null},"text":{"field":"freq","type":"nominal"}}},
   {"data":{"name":"pieinfo"},"transform":[{"filter":"datum.id=='w3'"}],"mark":{"type":"text","font":"Carlito, Calibri, Lato, sans-serif","fontSize":18,"fontWeight":"bold","color":"#111"},"encoding":{"x":{"datum":638,"type":"quantitative","axis":null},"y":{"datum":282,"type":"quantitative","axis":null},"text":{"field":"freq","type":"nominal"}}},
   {"data":{"name":"pieinfo"},"transform":[{"filter":"datum.id=='m1'"}],"mark":{"type":"text","font":"Carlito, Calibri, Lato, sans-serif","fontSize":18,"fontWeight":"bold","color":"#111"},"encoding":{"x":{"datum":147,"type":"quantitative","axis":null},"y":{"datum":517,"type":"quantitative","axis":null},"text":{"field":"freq","type":"nominal"}}},
   {"data":{"name":"pieinfo"},"transform":[{"filter":"datum.id=='m2'"}],"mark":{"type":"text","font":"Carlito, Calibri, Lato, sans-serif","fontSize":18,"fontWeight":"bold","color":"#111"},"encoding":{"x":{"datum":365,"type":"quantitative","axis":null},"y":{"datum":517,"type":"quantitative","axis":null},"text":{"field":"freq","type":"nominal"}}},
   {"data":{"name":"pieinfo"},"transform":[{"filter":"datum.id=='m3'"}],"mark":{"type":"text","font":"Carlito, Calibri, Lato, sans-serif","fontSize":18,"fontWeight":"bold","color":"#111"},"encoding":{"x":{"datum":638,"type":"quantitative","axis":null},"y":{"datum":517,"type":"quantitative","axis":null},"text":{"field":"freq","type":"nominal"}}},

   {"data":{"name":"pie"},"transform":[{"filter":"datum.id=='w2'&&datum.cat=='6 to 10'"}],"mark":{"type":"text","font":"Carlito, Calibri, Lato, sans-serif","fontSize":12.5,"color":"#111"},"encoding":{"x":{"datum":321,"type":"quantitative","axis":null},"y":{"datum":78,"type":"quantitative","axis":null},"text":{"field":"label","type":"nominal"}}},
   {"data":{"name":"pie"},"transform":[{"filter":"datum.id=='w2'&&datum.cat=='>10'"}],"mark":{"type":"text","font":"Carlito, Calibri, Lato, sans-serif","fontSize":12.5,"color":"#111"},"encoding":{"x":{"datum":379,"type":"quantitative","axis":null},"y":{"datum":73,"type":"quantitative","axis":null},"text":{"field":"label","type":"nominal"}}},
   {"data":{"name":"pie"},"transform":[{"filter":"datum.id=='w3'&&datum.cat=='0'"}],"mark":{"type":"text","font":"Carlito, Calibri, Lato, sans-serif","fontSize":12.5,"color":"#111"},"encoding":{"x":{"datum":601,"type":"quantitative","axis":null},"y":{"datum":78,"type":"quantitative","axis":null},"text":{"field":"label","type":"nominal"}}},
   {"data":{"name":"pie"},"transform":[{"filter":"datum.id=='w3'&&datum.cat=='6 to 10'"}],"mark":{"type":"text","font":"Carlito, Calibri, Lato, sans-serif","fontSize":12.5,"color":"#111"},"encoding":{"x":{"datum":638,"type":"quantitative","axis":null},"y":{"datum":72,"type":"quantitative","axis":null},"text":{"field":"label","type":"nominal"}}},
   {"data":{"name":"pie"},"transform":[{"filter":"datum.id=='w3'&&datum.cat=='>10'"}],"mark":{"type":"text","font":"Carlito, Calibri, Lato, sans-serif","fontSize":12.5,"color":"#111"},"encoding":{"x":{"datum":675,"type":"quantitative","axis":null},"y":{"datum":78,"type":"quantitative","axis":null},"text":{"field":"label","type":"nominal"}}},
   {"data":{"name":"pie"},"transform":[{"filter":"datum.id=='m2'&&datum.cat=='6 to 10'"}],"mark":{"type":"text","font":"Carlito, Calibri, Lato, sans-serif","fontSize":12.5,"color":"#111"},"encoding":{"x":{"datum":326,"type":"quantitative","axis":null},"y":{"datum":317,"type":"quantitative","axis":null},"text":{"field":"label","type":"nominal"}}},
   {"data":{"name":"pie"},"transform":[{"filter":"datum.id=='m2'&&datum.cat=='>10'"}],"mark":{"type":"text","font":"Carlito, Calibri, Lato, sans-serif","fontSize":12.5,"color":"#111"},"encoding":{"x":{"datum":382,"type":"quantitative","axis":null},"y":{"datum":317,"type":"quantitative","axis":null},"text":{"field":"label","type":"nominal"}}},
   {"data":{"name":"pie"},"transform":[{"filter":"datum.id=='m3'&&datum.cat=='0'"}],"mark":{"type":"text","font":"Carlito, Calibri, Lato, sans-serif","fontSize":12.5,"color":"#111"},"encoding":{"x":{"datum":663,"type":"quantitative","axis":null},"y":{"datum":308,"type":"quantitative","axis":null},"text":{"field":"label","type":"nominal"}}},

   {"mark":{"type":"rule","color":"#333","strokeWidth":0.8},"encoding":{"x":{"datum":334,"type":"quantitative","axis":null},"y":{"datum":82,"type":"quantitative","axis":null},"x2":{"datum":343},"y2":{"datum":91}}},
   {"mark":{"type":"rule","color":"#333","strokeWidth":0.8},"encoding":{"x":{"datum":367,"type":"quantitative","axis":null},"y":{"datum":73,"type":"quantitative","axis":null},"x2":{"datum":359},"y2":{"datum":73}}},
   {"mark":{"type":"rule","color":"#333","strokeWidth":0.8},"encoding":{"x":{"datum":359,"type":"quantitative","axis":null},"y":{"datum":73,"type":"quantitative","axis":null},"x2":{"datum":358},"y2":{"datum":88}}},
   {"mark":{"type":"rule","color":"#333","strokeWidth":0.8},"encoding":{"x":{"datum":615,"type":"quantitative","axis":null},"y":{"datum":83,"type":"quantitative","axis":null},"x2":{"datum":637},"y2":{"datum":88}}},
   {"mark":{"type":"rule","color":"#333","strokeWidth":0.8},"encoding":{"x":{"datum":637,"type":"quantitative","axis":null},"y":{"datum":79,"type":"quantitative","axis":null},"x2":{"datum":637},"y2":{"datum":88}}},
   {"mark":{"type":"rule","color":"#333","strokeWidth":0.8},"encoding":{"x":{"datum":660,"type":"quantitative","axis":null},"y":{"datum":83,"type":"quantitative","axis":null},"x2":{"datum":637},"y2":{"datum":88}}},
   {"mark":{"type":"rule","color":"#333","strokeWidth":0.8},"encoding":{"x":{"datum":339,"type":"quantitative","axis":null},"y":{"datum":320,"type":"quantitative","axis":null},"x2":{"datum":350},"y2":{"datum":328}}},
   {"mark":{"type":"rule","color":"#333","strokeWidth":0.8},"encoding":{"x":{"datum":370,"type":"quantitative","axis":null},"y":{"datum":318,"type":"quantitative","axis":null},"x2":{"datum":362},"y2":{"datum":318}}},
   {"mark":{"type":"rule","color":"#333","strokeWidth":0.8},"encoding":{"x":{"datum":362,"type":"quantitative","axis":null},"y":{"datum":318,"type":"quantitative","axis":null},"x2":{"datum":358},"y2":{"datum":327}}},
   {"mark":{"type":"rule","color":"#333","strokeWidth":0.8},"encoding":{"x":{"datum":650,"type":"quantitative","axis":null},"y":{"datum":309,"type":"quantitative","axis":null},"x2":{"datum":645},"y2":{"datum":309}}},
   {"mark":{"type":"rule","color":"#333","strokeWidth":0.8},"encoding":{"x":{"datum":645,"type":"quantitative","axis":null},"y":{"datum":309,"type":"quantitative","axis":null},"x2":{"datum":646},"y2":{"datum":324}}},

   {"mark":{"type":"text","text":"# mutation per sequence","align":"left","font":"Liberation Sans Narrow, Arial Narrow, Liberation Sans, Arial, sans-serif","fontSize":15.5,"color":"#111"},"encoding":{"x":{"datum":53,"type":"quantitative","axis":null},"y":{"datum":566,"type":"quantitative","axis":null}}},
   {"mark":{"type":"rect","fill":"white","stroke":"#666","strokeWidth":1},"encoding":{"x":{"datum":234,"type":"quantitative","axis":null},"x2":{"datum":244},"y":{"datum":561,"type":"quantitative","axis":null},"y2":{"datum":572}}},
   {"mark":{"type":"text","text":"0","align":"left","font":"Liberation Sans Narrow, Arial Narrow, Liberation Sans, Arial, sans-serif","fontSize":17,"color":"#111"},"encoding":{"x":{"datum":250,"type":"quantitative","axis":null},"y":{"datum":565,"type":"quantitative","axis":null}}},
   {"mark":{"type":"rect","fill":"#7f9fd5","stroke":"#666","strokeWidth":0.8},"encoding":{"x":{"datum":281,"type":"quantitative","axis":null},"x2":{"datum":293},"y":{"datum":551,"type":"quantitative","axis":null},"y2":{"datum":562}}},
   {"mark":{"type":"rect","fill":"#d67b7a","stroke":"#666","strokeWidth":0.8},"encoding":{"x":{"datum":281,"type":"quantitative","axis":null},"x2":{"datum":293},"y":{"datum":569,"type":"quantitative","axis":null},"y2":{"datum":580}}},
   {"mark":{"type":"text","text":"1 to 5","align":"left","font":"Liberation Sans Narrow, Arial Narrow, Liberation Sans, Arial, sans-serif","fontSize":17,"color":"#111"},"encoding":{"x":{"datum":297,"type":"quantitative","axis":null},"y":{"datum":565,"type":"quantitative","axis":null}}},
   {"mark":{"type":"rect","fill":"#3e73b7","stroke":"#666","strokeWidth":0.8},"encoding":{"x":{"datum":359,"type":"quantitative","axis":null},"x2":{"datum":371},"y":{"datum":551,"type":"quantitative","axis":null},"y2":{"datum":562}}},
   {"mark":{"type":"rect","fill":"#ba4343","stroke":"#666","strokeWidth":0.8},"encoding":{"x":{"datum":359,"type":"quantitative","axis":null},"x2":{"datum":371},"y":{"datum":569,"type":"quantitative","axis":null},"y2":{"datum":580}}},
   {"mark":{"type":"text","text":"6 to 10","align":"left","font":"Liberation Sans Narrow, Arial Narrow, Liberation Sans, Arial, sans-serif","fontSize":17,"color":"#111"},"encoding":{"x":{"datum":375,"type":"quantitative","axis":null},"y":{"datum":565,"type":"quantitative","axis":null}}},
   {"mark":{"type":"rect","fill":"#15305a","stroke":"#666","strokeWidth":0.8},"encoding":{"x":{"datum":447,"type":"quantitative","axis":null},"x2":{"datum":459},"y":{"datum":551,"type":"quantitative","axis":null},"y2":{"datum":562}}},
   {"mark":{"type":"rect","fill":"#5e1616","stroke":"#666","strokeWidth":0.8},"encoding":{"x":{"datum":447,"type":"quantitative","axis":null},"x2":{"datum":459},"y":{"datum":569,"type":"quantitative","axis":null},"y2":{"datum":580}}},
   {"mark":{"type":"text","text":">10","align":"left","font":"Liberation Sans Narrow, Arial Narrow, Liberation Sans, Arial, sans-serif","fontSize":17,"color":"#111"},"encoding":{"x":{"datum":463,"type":"quantitative","axis":null},"y":{"datum":565,"type":"quantitative","axis":null}}}
  ]
 },
 {
  "width":720,"height":123,
  "data":{"values":[{}]},
  "layer":[
   {"mark":{"type":"text","text":"C","font":"Liberation Sans, Arial, sans-serif","fontSize":17,"fontWeight":"bold","color":"#000"},"encoding":{"x":{"datum":18,"type":"quantitative","scale":{"domain":[0,720],"nice":false,"zero":false},"axis":null},"y":{"datum":43,"type":"quantitative","scale":{"domain":[0,123],"nice":false,"zero":false,"reverse":true},"axis":null}}},
   {"mark":{"type":"text","text":"Intron 3’ to Jₕ3 and Jₕ4","font":"Liberation Sans Narrow, Arial Narrow, Liberation Sans, Arial, sans-serif","fontSize":18,"color":"#111"},"encoding":{"x":{"datum":149,"type":"quantitative","axis":null},"y":{"datum":42,"type":"quantitative","axis":null}}},
   {"mark":{"type":"text","text":"Peyer’s patch GC","font":"Liberation Sans Narrow, Arial Narrow, Liberation Sans, Arial, sans-serif","fontSize":18,"color":"#111"},"encoding":{"x":{"datum":149,"type":"quantitative","axis":null},"y":{"datum":63,"type":"quantitative","axis":null}}},
   {"mark":{"type":"text","text":"Intron 3’ to Jₕ4","font":"Liberation Sans Narrow, Arial Narrow, Liberation Sans, Arial, sans-serif","fontSize":18,"color":"#111"},"encoding":{"x":{"datum":367,"type":"quantitative","axis":null},"y":{"datum":42,"type":"quantitative","axis":null}}},
   {"mark":{"type":"text","text":"Spleen GC (immunized)","font":"Liberation Sans Narrow, Arial Narrow, Liberation Sans, Arial, sans-serif","fontSize":18,"color":"#111"},"encoding":{"x":{"datum":367,"type":"quantitative","axis":null},"y":{"datum":63,"type":"quantitative","axis":null}}},
   {"mark":{"type":"text","text":"Intron 5’ to Smu","font":"Liberation Sans Narrow, Arial Narrow, Liberation Sans, Arial, sans-serif","fontSize":18,"color":"#111"},"encoding":{"x":{"datum":613,"type":"quantitative","axis":null},"y":{"datum":42,"type":"quantitative","axis":null}}},
   {"mark":{"type":"text","text":"Peyer’s patch GC","font":"Liberation Sans Narrow, Arial Narrow, Liberation Sans, Arial, sans-serif","fontSize":18,"color":"#111"},"encoding":{"x":{"datum":613,"type":"quantitative","axis":null},"y":{"datum":63,"type":"quantitative","axis":null}}}
  ]
 },
 {
  "spacing":0,"bounds":"flush",
  "hconcat":[
   {"width":82,"height":184,"data":{"values":[]},"mark":"point"},
   {
    "width":147,"height":184,
    "layer":[
     {"data":{"name":"cpts"},"transform":[{"filter":"datum.reg==1"}],"mark":{"type":"point","filled":false,"size":18,"strokeWidth":1.1},"encoding":{"x":{"field":"geno","type":"nominal","title":null,"scale":{"type":"point","domain":["wt","MARs"],"padding":0.5},"axis":{"labels":false,"title":null,"tickSize":5}},"y":{"field":"f","type":"quantitative","title":"Mutation frequency (mut/kb)","scale":{"domain":[0,20],"nice":false},"axis":{"values":[0,5,10,15,20],"labelOverlap":false,"titlePadding":8,"titleFontSize":18}},"stroke":{"field":"geno","type":"nominal","scale":{"domain":["wt","MARs"],"range":["#7aa8e8","#f0a3a3"]},"legend":null}}},
     {"data":{"name":"cpts"},"transform":[{"filter":"datum.reg==1"}],"mark":{"type":"errorbar","extent":"stderr","ticks":true,"size":24,"thickness":3},"encoding":{"x":{"field":"geno","type":"nominal","title":null},"y":{"field":"f","type":"quantitative","title":"Mutation frequency (mut/kb)"},"color":{"field":"geno","type":"nominal","scale":{"domain":["wt","MARs"],"range":["#4a9ff5","#f37b7b"]},"legend":null}}},
     {"data":{"name":"cpts"},"transform":[{"filter":"datum.reg==1"}],"mark":{"type":"tick","size":40,"thickness":1.3,"color":"#333"},"encoding":{"x":{"field":"geno","type":"nominal","title":null},"y":{"aggregate":"mean","field":"f","type":"quantitative","title":"Mutation frequency (mut/kb)"}}},
     {"data":{"name":"cfreq"},"transform":[{"filter":"datum.reg==1"}],"mark":{"type":"text","font":"Carlito, Calibri, Lato, sans-serif","fontSize":19,"fontWeight":"bold","color":"#111","dx":4},"encoding":{"x":{"field":"geno","type":"nominal","title":null},"y":{"datum":21.4,"type":"quantitative","title":"Mutation frequency (mut/kb)"},"text":{"field":"freq","type":"nominal"}}},
     {"data":{"values":[{}]},"mark":{"type":"rule","color":"#222","strokeWidth":1.5},"encoding":{"x":{"datum":"wt","type":"nominal","title":null},"x2":{"datum":"MARs"},"y":{"datum":18.4,"type":"quantitative","title":"Mutation frequency (mut/kb)"}}},
     {"data":{"values":[{}]},"mark":{"type":"text","text":"**","font":"Liberation Sans, Arial, sans-serif","fontSize":20,"fontWeight":"bold","color":"#222","dx":37,"dy":-5},"encoding":{"x":{"datum":"wt","type":"nominal","title":null},"y":{"datum":18.4,"type":"quantitative","title":"Mutation frequency (mut/kb)"}}},
     {"data":{"values":[{}]},"mark":{"type":"text","text":"wt","font":"Liberation Sans, Arial, sans-serif","fontSize":18,"fontStyle":"italic","color":"#222","dx":-6,"dy":19},"encoding":{"x":{"datum":"wt","type":"nominal","title":null},"y":{"datum":0,"type":"quantitative","title":"Mutation frequency (mut/kb)"}}},
     {"data":{"values":[{}]},"mark":{"type":"text","text":"MARs","align":"right","font":"Liberation Sans, Arial, sans-serif","fontSize":18,"fontStyle":"italic","color":"#222","dx":10,"dy":19},"encoding":{"x":{"datum":"MARs","type":"nominal","title":null},"y":{"datum":0,"type":"quantitative","title":"Mutation frequency (mut/kb)"}}},
     {"data":{"values":[{}]},"mark":{"type":"text","text":"Eμ","align":"left","font":"Liberation Sans, Arial, sans-serif","fontSize":11,"fontStyle":"italic","color":"#222","dx":10,"dy":26},"encoding":{"x":{"datum":"MARs","type":"nominal","title":null},"y":{"datum":0,"type":"quantitative","title":"Mutation frequency (mut/kb)"}}},
     {"data":{"values":[{}]},"mark":{"type":"text","text":"Δ/Δ","align":"left","font":"Liberation Sans, Arial, sans-serif","fontSize":11,"color":"#222","dx":22,"dy":12},"encoding":{"x":{"datum":"MARs","type":"nominal","title":null},"y":{"datum":0,"type":"quantitative","title":"Mutation frequency (mut/kb)"}}}
    ]
   },
   {"width":49,"height":184,"data":{"values":[]},"mark":"point"},
   {
    "width":147,"height":184,
    "layer":[
     {"data":{"name":"cpts"},"transform":[{"filter":"datum.reg==2"}],"mark":{"type":"point","filled":false,"size":18,"strokeWidth":1.1},"encoding":{"x":{"field":"geno","type":"nominal","title":null,"scale":{"type":"point","domain":["wt","MARs"],"padding":0.5},"axis":{"labels":false,"title":null,"tickSize":5}},"y":{"field":"f","type":"quantitative","title":null,"scale":{"domain":[0,8],"nice":false},"axis":{"values":[0,2,4,6,8],"labelOverlap":false,"title":null}},"stroke":{"field":"geno","type":"nominal","scale":{"domain":["wt","MARs"],"range":["#7aa8e8","#f0a3a3"]},"legend":null}}},
     {"data":{"name":"cpts"},"transform":[{"filter":"datum.reg==2"}],"mark":{"type":"errorbar","extent":"stderr","ticks":true,"size":24,"thickness":3},"encoding":{"x":{"field":"geno","type":"nominal","title":null},"y":{"field":"f","type":"quantitative","title":null},"color":{"field":"geno","type":"nominal","scale":{"domain":["wt","MARs"],"range":["#4a9ff5","#f37b7b"]},"legend":null}}},
     {"data":{"name":"cpts"},"transform":[{"filter":"datum.reg==2"}],"mark":{"type":"tick","size":40,"thickness":1.3,"color":"#333"},"encoding":{"x":{"field":"geno","type":"nominal","title":null},"y":{"aggregate":"mean","field":"f","type":"quantitative","title":null}}},
     {"data":{"name":"cfreq"},"transform":[{"filter":"datum.reg==2"}],"mark":{"type":"text","font":"Carlito, Calibri, Lato, sans-serif","fontSize":19,"fontWeight":"bold","color":"#111","dx":5},"encoding":{"x":{"field":"geno","type":"nominal","title":null},"y":{"datum":8.57,"type":"quantitative","title":null},"text":{"field":"freq","type":"nominal"}}},
     {"data":{"values":[{}]},"mark":{"type":"text","text":"wt","font":"Liberation Sans, Arial, sans-serif","fontSize":18,"fontStyle":"italic","color":"#222","dx":-6,"dy":19},"encoding":{"x":{"datum":"wt","type":"nominal","title":null},"y":{"datum":0,"type":"quantitative","title":null}}},
     {"data":{"values":[{}]},"mark":{"type":"text","text":"MARs","align":"right","font":"Liberation Sans, Arial, sans-serif","fontSize":18,"fontStyle":"italic","color":"#222","dx":10,"dy":19},"encoding":{"x":{"datum":"MARs","type":"nominal","title":null},"y":{"datum":0,"type":"quantitative","title":null}}},
     {"data":{"values":[{}]},"mark":{"type":"text","text":"Eμ","align":"left","font":"Liberation Sans, Arial, sans-serif","fontSize":11,"fontStyle":"italic","color":"#222","dx":10,"dy":26},"encoding":{"x":{"datum":"MARs","type":"nominal","title":null},"y":{"datum":0,"type":"quantitative","title":null}}},
     {"data":{"values":[{}]},"mark":{"type":"text","text":"Δ/Δ","align":"left","font":"Liberation Sans, Arial, sans-serif","fontSize":11,"color":"#222","dx":22,"dy":12},"encoding":{"x":{"datum":"MARs","type":"nominal","title":null},"y":{"datum":0,"type":"quantitative","title":null}}}
    ]
   },
   {"width":139,"height":184,"data":{"values":[]},"mark":"point"},
   {
    "spacing":0,"bounds":"flush",
    "vconcat":[
     {"width":141,"height":6,"data":{"values":[]},"mark":"point"},
     {
      "width":141,"height":178,
      "layer":[
       {"data":{"name":"cpts"},"transform":[{"filter":"datum.reg==3"}],"mark":{"type":"point","filled":false,"size":18,"strokeWidth":1.1},"encoding":{"x":{"field":"geno","type":"nominal","title":null,"scale":{"type":"point","domain":["wt","MARs"],"padding":0.5},"axis":{"labels":false,"title":null,"tickSize":5}},"y":{"field":"f","type":"quantitative","title":"Mutation frequency (mut/Kb)","scale":{"domain":[0,10],"nice":false},"axis":{"tickCount":5,"labelOverlap":false,"titlePadding":2,"titleFontSize":18}},"stroke":{"field":"geno","type":"nominal","scale":{"domain":["wt","MARs"],"range":["#7aa8e8","#f0a3a3"]},"legend":null}}},
       {"data":{"name":"cpts"},"transform":[{"filter":"datum.reg==3"}],"mark":{"type":"errorbar","extent":"stderr","ticks":true,"size":24,"thickness":3},"encoding":{"x":{"field":"geno","type":"nominal","title":null},"y":{"field":"f","type":"quantitative","title":"Mutation frequency (mut/Kb)"},"color":{"field":"geno","type":"nominal","scale":{"domain":["wt","MARs"],"range":["#4a9ff5","#f37b7b"]},"legend":null}}},
       {"data":{"name":"cpts"},"transform":[{"filter":"datum.reg==3"}],"mark":{"type":"tick","size":40,"thickness":1.3,"color":"#333"},"encoding":{"x":{"field":"geno","type":"nominal","title":null},"y":{"aggregate":"mean","field":"f","type":"quantitative","title":"Mutation frequency (mut/Kb)"}}},
       {"data":{"name":"cfreq"},"transform":[{"filter":"datum.reg==3"}],"mark":{"type":"text","font":"Carlito, Calibri, Lato, sans-serif","fontSize":19,"fontWeight":"bold","color":"#111","dx":0},"encoding":{"x":{"field":"geno","type":"nominal","title":null},"y":{"datum":11.07,"type":"quantitative","title":"Mutation frequency (mut/Kb)"},"text":{"field":"freq","type":"nominal"}}},
       {"data":{"values":[{}]},"mark":{"type":"rule","color":"#222","strokeWidth":1.5},"encoding":{"x":{"datum":"wt","type":"nominal","title":null},"x2":{"datum":"MARs"},"y":{"datum":9.7,"type":"quantitative","title":"Mutation frequency (mut/Kb)"}}},
       {"data":{"values":[{}]},"mark":{"type":"text","text":"**","font":"Liberation Sans, Arial, sans-serif","fontSize":20,"fontWeight":"bold","color":"#222","dx":35,"dy":-5},"encoding":{"x":{"datum":"wt","type":"nominal","title":null},"y":{"datum":9.7,"type":"quantitative","title":"Mutation frequency (mut/Kb)"}}},
       {"data":{"values":[{}]},"mark":{"type":"text","text":"wt","font":"Liberation Sans, Arial, sans-serif","fontSize":18,"fontStyle":"italic","color":"#222","dx":-6,"dy":19},"encoding":{"x":{"datum":"wt","type":"nominal","title":null},"y":{"datum":0,"type":"quantitative","title":"Mutation frequency (mut/Kb)"}}},
       {"data":{"values":[{}]},"mark":{"type":"text","text":"MARs","align":"right","font":"Liberation Sans, Arial, sans-serif","fontSize":18,"fontStyle":"italic","color":"#222","dx":10,"dy":19},"encoding":{"x":{"datum":"MARs","type":"nominal","title":null},"y":{"datum":0,"type":"quantitative","title":"Mutation frequency (mut/Kb)"}}},
       {"data":{"values":[{}]},"mark":{"type":"text","text":"Eμ","align":"left","font":"Liberation Sans, Arial, sans-serif","fontSize":11,"fontStyle":"italic","color":"#222","dx":10,"dy":26},"encoding":{"x":{"datum":"MARs","type":"nominal","title":null},"y":{"datum":0,"type":"quantitative","title":"Mutation frequency (mut/Kb)"}}},
       {"data":{"values":[{}]},"mark":{"type":"text","text":"Δ/Δ","align":"left","font":"Liberation Sans, Arial, sans-serif","fontSize":11,"color":"#222","dx":22,"dy":12},"encoding":{"x":{"datum":"MARs","type":"nominal","title":null},"y":{"datum":0,"type":"quantitative","title":"Mutation frequency (mut/Kb)"}}}
      ]
     }
    ]
   }
  ]
 },
 {"width":720,"height":237,"data":{"values":[]},"mark":"point"},
 {
  "width":720,"height":77,
  "data":{"values":[{}]},
  "layer":[
   {"mark":{"type":"text","text":"D","font":"Liberation Sans, Arial, sans-serif","fontSize":17,"fontWeight":"bold","color":"#000"},"encoding":{"x":{"datum":18,"type":"quantitative","scale":{"domain":[0,720],"nice":false,"zero":false},"axis":null},"y":{"datum":18,"type":"quantitative","scale":{"domain":[0,77],"nice":false,"zero":false,"reverse":true},"axis":null}}},
   {"mark":{"type":"text","text":"Intron 3’ to Jₕ4","font":"Liberation Sans Narrow, Arial Narrow, Liberation Sans, Arial, sans-serif","fontSize":18,"color":"#111"},"encoding":{"x":{"datum":214,"type":"quantitative","axis":null},"y":{"datum":47,"type":"quantitative","axis":null}}},
   {"mark":{"type":"text","text":"Peyer’s patch GC","font":"Liberation Sans Narrow, Arial Narrow, Liberation Sans, Arial, sans-serif","fontSize":18,"color":"#111"},"encoding":{"x":{"datum":214,"type":"quantitative","axis":null},"y":{"datum":68,"type":"quantitative","axis":null}}},
   {"mark":{"type":"rect","fill":"#4da0f5"},"encoding":{"x":{"datum":413,"type":"quantitative","axis":null},"x2":{"datum":432},"y":{"datum":67,"type":"quantitative","axis":null},"y2":{"datum":77}}},
   {"mark":{"type":"text","text":"wt","align":"left","fontStyle":"italic","font":"Liberation Sans Narrow, Arial Narrow, Liberation Sans, Arial, sans-serif","fontSize":15,"color":"#222"},"encoding":{"x":{"datum":444,"type":"quantitative","axis":null},"y":{"datum":72,"type":"quantitative","axis":null}}},
   {"mark":{"type":"text","text":"GC","align":"left","font":"Liberation Sans Narrow, Arial Narrow, Liberation Sans, Arial, sans-serif","fontSize":15,"color":"#222"},"encoding":{"x":{"datum":464,"type":"quantitative","axis":null},"y":{"datum":72,"type":"quantitative","axis":null}}},
   {"mark":{"type":"rect","fill":"#f47c7c"},"encoding":{"x":{"datum":413,"type":"quantitative","axis":null},"x2":{"datum":432},"y":{"datum":87,"type":"quantitative","axis":null},"y2":{"datum":97}}},
   {"mark":{"type":"text","text":"MARs","align":"left","fontStyle":"italic","font":"Liberation Sans Narrow, Arial Narrow, Liberation Sans, Arial, sans-serif","fontSize":15,"color":"#222"},"encoding":{"x":{"datum":444,"type":"quantitative","axis":null},"y":{"datum":91,"type":"quantitative","axis":null}}},
   {"mark":{"type":"text","text":"Eμ","align":"left","fontStyle":"italic","font":"Liberation Sans Narrow, Arial Narrow, Liberation Sans, Arial, sans-serif","fontSize":10,"color":"#222"},"encoding":{"x":{"datum":486,"type":"quantitative","axis":null},"y":{"datum":96,"type":"quantitative","axis":null}}},
   {"mark":{"type":"text","text":"Δ/Δ","align":"left","font":"Liberation Sans Narrow, Arial Narrow, Liberation Sans, Arial, sans-serif","fontSize":10,"color":"#222"},"encoding":{"x":{"datum":498,"type":"quantitative","axis":null},"y":{"datum":86,"type":"quantitative","axis":null}}},
   {"mark":{"type":"text","text":"GC","align":"left","font":"Liberation Sans Narrow, Arial Narrow, Liberation Sans, Arial, sans-serif","fontSize":15,"color":"#222"},"encoding":{"x":{"datum":516,"type":"quantitative","axis":null},"y":{"datum":91,"type":"quantitative","axis":null}}}
  ]
 },
 {
  "spacing":0,"bounds":"flush",
  "hconcat":[
   {"width":82,"height":183,"data":{"values":[]},"mark":"point"},
   {
    "width":278,"height":183,
    "layer":[
     {"data":{"name":"dWt"},"mark":{"type":"rule","color":"#3f8fee","strokeWidth":1},"encoding":{"x":{"field":"p","type":"quantitative","scale":{"domain":[0,278],"nice":false,"zero":false},"axis":null},"y":{"field":"f","type":"quantitative","title":"Mutation frequency  (mut/Kb)","scale":{"domain":[-0.2,0.2],"nice":false},"axis":{"values":[-0.2,-0.1,0,0.1,0.2],"labelOverlap":false,"format":".1f","labelExpr":"replace(datum.label,'−','-')","labelPadding":3,"titlePadding":14,"titleFontSize":18,"titleY":86}},"y2":{"datum":0}}},
     {"data":{"name":"dMars"},"mark":{"type":"rule","color":"#f27575","strokeWidth":1},"encoding":{"x":{"field":"p","type":"quantitative","axis":null},"y":{"field":"f","type":"quantitative","title":"Mutation frequency  (mut/Kb)"},"y2":{"datum":0}}},
     {"data":{"values":[{}]},"mark":{"type":"rule","color":"#111","strokeWidth":1.8,"strokeDash":[1.5,2.5]},"encoding":{"x":{"datum":3,"type":"quantitative","axis":null},"x2":{"datum":278},"y":{"datum":0,"type":"quantitative","title":"Mutation frequency  (mut/Kb)"}}}
    ]
   }
  ]
 },
 {"width":720,"height":201,"data":{"values":[]},"mark":"point"}
]
}
